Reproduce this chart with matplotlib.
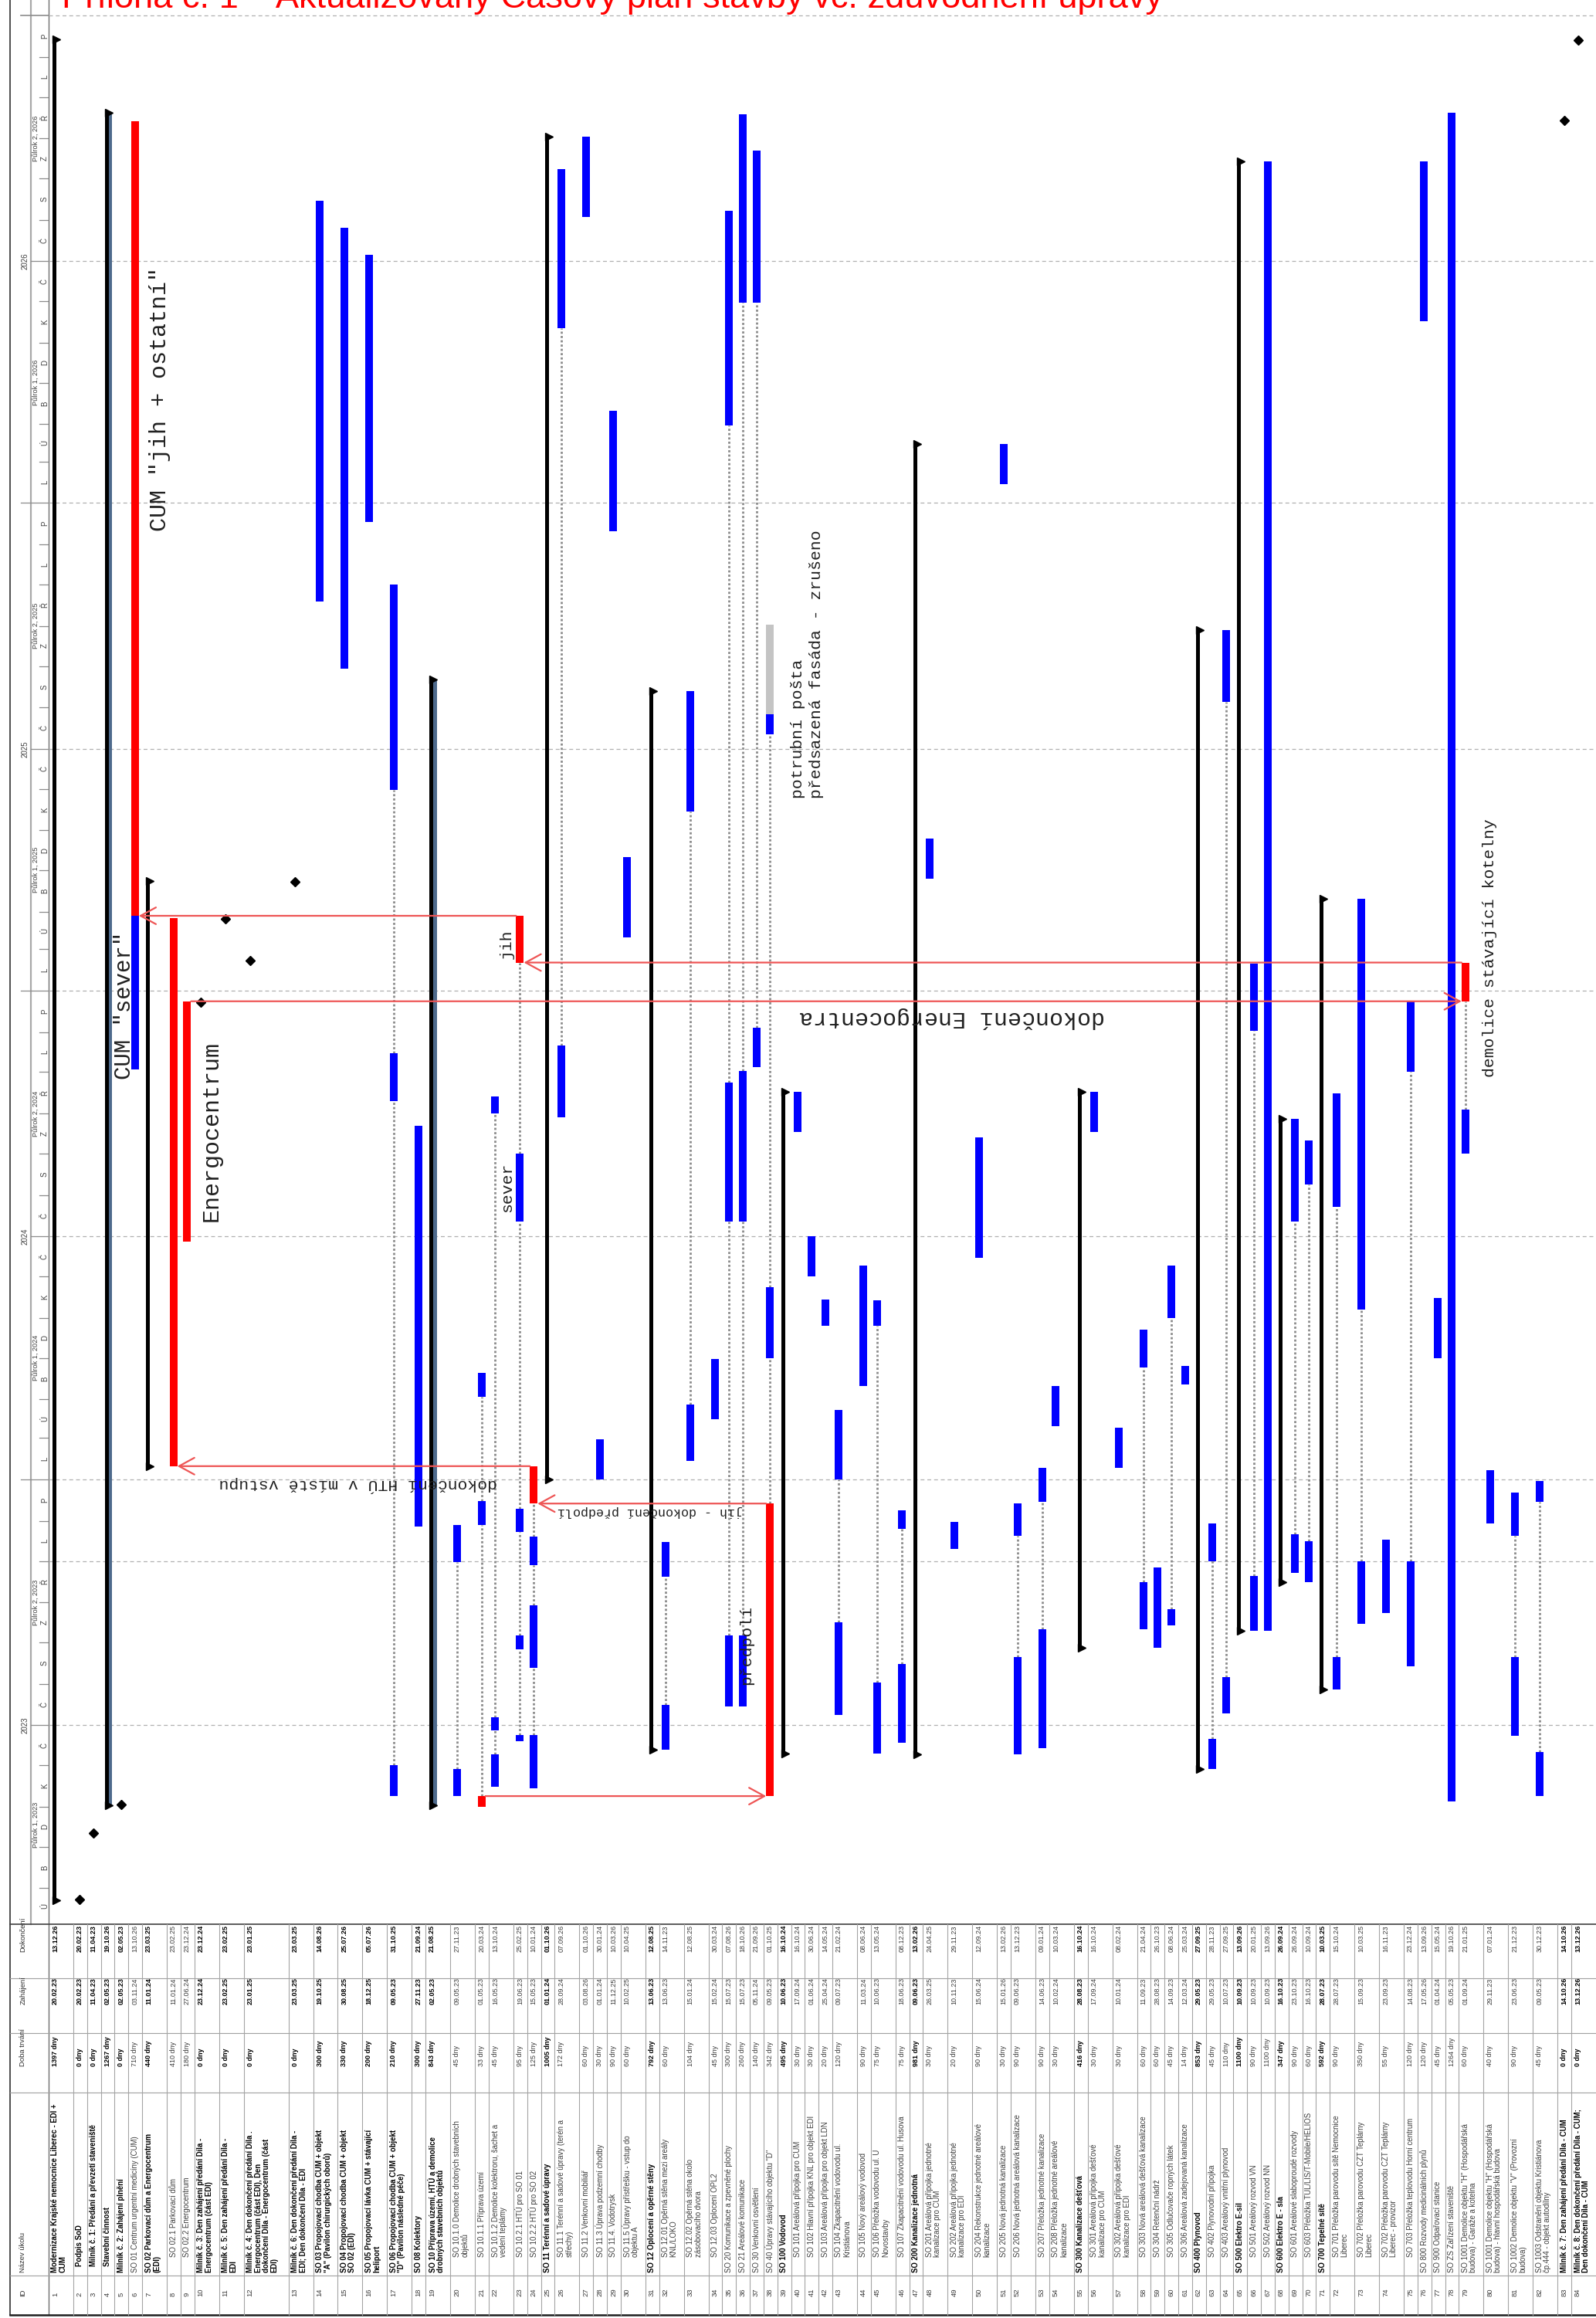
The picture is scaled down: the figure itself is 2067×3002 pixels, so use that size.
import datetime as dt
import matplotlib
matplotlib.use("Agg")
import matplotlib.pyplot as plt
import matplotlib.dates as mdates
from matplotlib.patches import Rectangle

plt.rcParams['font.family'] = ['Liberation Sans', 'DejaVu Sans']
MONO = ['Liberation Mono', 'DejaVu Sans Mono']

W, H = 2067, 3002
DAY_PX = 1.73

# ---------------- table data ----------------
ids = list(range(1, 85))
names = [
    "Modernizace Krajské nemocnice Liberec - EDI +\nCUM", "Podpis SoD",
    "Milník č. 1: Předání a převzetí staveniště", "Stavební činnost",
    "Milník č. 2: Zahájení plnění", "SO 01 Centrum urgentní medicíny (CUM)",
    "SO 02 Parkovací dům a Energocentrum\n(EDI)", "SO 02.1 Parkovací dům", "SO 02.2 Energocentrum",
    "Milník č. 3: Den zahájení předání Díla -\nEnergocentrum (část EDI)",
    "Milník č. 5: Den zahájení předání Díla -\nEDI",
    "Milník č. 4: Den dokončení předání Díla .\nEnergocentrum (část EDI), Den\ndokončení Díla - Energocentrum (část\nEDI)",
    "Milník č. 6: Den dokončení předání Díla -\nEDI; Den dokončení Díla - EDI",
    "SO 03 Propojovací chodba CUM + objekt\n\"A\" (Pavilon chirurgických oborů)",
    "SO 04 Propojovací chodba CUM + objekt\nSO 02 (EDI)",
    "SO 05 Propojovací lávka CUM + stávající\nheliport",
    "SO 06 Propojovací chodba CUM + objekt\n\"D\" (Pavilon následné péče)",
    "SO 08 Kolektory",
    "SO 10 Příprava území, HTÚ a demolice\ndrobných stavebních objektů",
    "SO 10.1.0 Demolice drobných stavebních\nobjektů", "SO 10.1.1 Příprava území",
    "SO 10.1.2 Demolice kolektroru, šachet a\nvedení teplámy",
    "SO 10.2.1 HTÚ pro SO 01", "SO 10.2.2 HTÚ pro SO 02", "SO 11 Terénní a sadové úpravy",
    "SO 11.1 Terénní a sadové úpravy (terén a\nstřechy)", "SO 11.2 Venkovní mobiliář",
    "SO 11.3 Úprava podzemní chodby", "SO 11.4. Vodotrysk",
    "SO 11.5 Úpravy přístřešku - vstup do\nobjektu A", "SO 12 Oplocení a opěrné stěny",
    "SO 12.01 Opěrná stěna mezi areály\nKNL/LOKO", "SO 12.02 Opěrná stěna okolo\nzásobovacího dvora",
    "SO 12.03 Oplocení OPL2", "SO 20 Komunikace a zpevněné plochy", "SO 21 Areálové komunikace",
    "SO 30 Venkovní osvětlení", "SO 40 Úpravy stávajícího objektu \"D\"", "SO 100 Vodovod",
    "SO 101 Areálová přípojka pro CUM", "SO 102 Hlavní přípojka KNL pro objekt EDI",
    "SO 103 Areálová přípojka pro objekt LDN", "SO 104 Zkapacitnění vodovodu ul.\nKristiánova",
    "SO 105 Nový areálový vodovod", "SO 106 Přeložka vodovodu ul. U\nNovostavby",
    "SO 107 Zkapacitnění vodovodu ul. Husova", "SO 200 Kanalizace jednotná",
    "SO 201 Areálová přípojka jednotné\nkanalizace pro CUM",
    "SO 202 Areálová přípojka jednotné\nkanalizace pro EDI",
    "SO 204 Rekonstrukce jednotné areálové\nkanalizace", "SO 205 Nová jednotná kanalizace",
    "SO 206 Nová jednotná areálová kanalizace", "SO 207 Přeložka jednotné kanalizace",
    "SO 208 Přeložka jednotné areálové\nkanalizace", "SO 300 Kanalizace dešťová",
    "SO 301 Areálová přípojka dešťové\nkanalizace pro CUM",
    "SO 302 Areálová přípojka dešťové\nkanalizace pro EDI",
    "SO 303 Nová areálová dešťová kanalizace", "SO 304 Retenční nádrž",
    "SO 305 Odlučovače ropných látek", "SO 306 Areálová zadejovaná kanalizace",
    "SO 400 Plynovod", "SO 402 Plynovodní přípojka", "SO 403 Areálový vnitřní plynovod",
    "SO 500 Elektro E-sil", "SO 501 Areálový rozvod VN", "SO 502 Areálový rozvod NN",
    "SO 600 Elektro E - sla", "SO 601 Areálové slaboproudé rozvody",
    "SO 603 Přeložka TUL/LIS/T-Mobile/HELIOS", "SO 700 Tepelné sítě",
    "SO 701 Přeložka parovodu sítě Nemocnice\nLiberec", "SO 702 Přeložka parovodu CZT Teplárny\nLiberec",
    "SO 702 Přeložka parovodu CZT Teplárny\nLiberec - provizor",
    "SO 703 Přeložka teplovodu Horní centrum", "SO 800 Rozvody medicinálních plynů",
    "SO 900 Odpařovací stanice", "SO ZS Zařízení staveniště",
    "SO 1001 Demolice objektu \"H\" (Hospodářská\nbudova) - Garáže a kotelna",
    "SO 1001 Demolice objektu \"H\" (Hospodářská\nbudova) - hlavní hospodářská budova",
    "SO 1002 Demolice objektu \"V\" (Provozní\nbudova)",
    "SO 1003 Odstranění objektu Kristiánova\nčp.444 - objekt autodílny",
    "Milník č. 7: Den zahájení předání Díla - CUM",
    "Milník č. 8: Den dokončení předání Díla - CUM;\nDen dokončení Díla - CUM",
]
row_lines = [2, 1, 1, 1, 1, 1, 2, 1, 1, 2,
             2, 4, 2, 2, 2, 2, 2, 1, 2, 2,
             1, 2, 1, 1, 1, 2, 1, 1, 1, 2,
             1, 2, 2, 1, 1, 1, 1, 1, 1, 1,
             1, 1, 2, 1, 2, 1, 1, 2, 2, 2,
             1, 2, 1, 2, 1, 2, 2, 1, 1, 1,
             1, 1, 1, 1, 1, 1, 1, 1, 1, 1,
             1, 2, 2, 2, 1, 1, 1, 1, 2, 2,
             2, 2, 1, 2]
durations = ['1397 dny', '0 dny', '0 dny', '1267 dny', '0 dny', '710 dny', '440 dny', '410 dny', '180 dny', '0 dny',
             '0 dny', '0 dny', '0 dny', '300 dny', '330 dny', '200 dny', '210 dny', '300 dny', '843 dny', '45 dny',
             '33 dny', '45 dny', '95 dny', '125 dny', '1005 dny', '172 dny', '60 dny', '30 dny', '90 dny', '60 dny',
             '792 dny', '60 dny', '104 dny', '45 dny', '300 dny', '260 dny', '140 dny', '342 dny', '495 dny', '30 dny',
             '30 dny', '20 dny', '120 dny', '90 dny', '75 dny', '75 dny', '981 dny', '30 dny', '20 dny', '90 dny',
             '30 dny', '90 dny', '90 dny', '30 dny', '416 dny', '30 dny', '30 dny', '60 dny', '60 dny', '45 dny',
             '14 dny', '853 dny', '45 dny', '110 dny', '1100 dny', '90 dny', '1100 dny', '347 dny', '90 dny', '60 dny',
             '592 dny', '90 dny', '350 dny', '55 dny', '120 dny', '120 dny', '45 dny', '1264 dny', '60 dny', '40 dny',
             '90 dny', '45 dny', '0 dny', '0 dny']
starts = ['20.02.23', '20.02.23', '11.04.23', '02.05.23', '02.05.23', '03.11.24', '11.01.24', '11.01.24', '27.06.24', '23.12.24',
          '23.02.25', '23.01.25', '23.03.25', '19.10.25', '30.08.25', '18.12.25', '09.05.23', '27.11.23', '02.05.23', '09.05.23',
          '01.05.23', '16.05.23', '19.06.23', '15.05.23', '01.01.24', '28.09.24', '03.08.26', '01.01.24', '11.12.25', '10.02.25',
          '13.06.23', '13.06.23', '15.01.24', '15.02.24', '15.07.23', '15.07.23', '05.11.24', '09.05.23', '10.06.23', '17.09.24',
          '01.06.24', '25.04.24', '09.07.23', '11.03.24', '10.06.23', '18.06.23', '09.06.23', '26.03.25', '10.11.23', '15.06.24',
          '15.01.26', '09.06.23', '14.06.23', '10.02.24', '28.08.23', '17.09.24', '10.01.24', '11.09.23', '28.08.23', '14.09.23',
          '12.03.24', '29.05.23', '29.05.23', '10.07.23', '10.09.23', '10.09.23', '10.09.23', '16.10.23', '23.10.23', '16.10.23',
          '28.07.23', '28.07.23', '15.09.23', '23.09.23', '14.08.23', '17.05.26', '01.04.24', '05.05.23', '01.09.24', '29.11.23',
          '23.06.23', '09.05.23', '14.10.26', '13.12.26']
finishes = ['13.12.26', '20.02.23', '11.04.23', '19.10.26', '02.05.23', '13.10.26', '23.03.25', '23.02.25', '23.12.24', '23.12.24',
            '23.02.25', '23.01.25', '23.03.25', '14.08.26', '25.07.26', '05.07.26', '31.10.25', '21.09.24', '21.08.25', '27.11.23',
            '20.03.24', '13.10.24', '25.02.25', '10.01.24', '01.10.26', '07.09.26', '01.10.26', '30.01.24', '10.03.26', '10.04.25',
            '12.08.25', '14.11.23', '12.08.25', '30.03.24', '07.08.26', '18.10.26', '21.09.26', '01.10.25', '16.10.24', '16.10.24',
            '30.06.24', '14.05.24', '21.02.24', '08.06.24', '13.05.24', '08.12.23', '13.02.26', '24.04.25', '29.11.23', '12.09.24',
            '13.02.26', '13.12.23', '09.01.24', '10.03.24', '16.10.24', '16.10.24', '08.02.24', '21.04.24', '26.10.23', '08.06.24',
            '25.03.24', '27.09.25', '28.11.23', '27.09.25', '13.09.26', '20.01.25', '13.09.26', '26.09.24', '26.09.24', '10.09.24',
            '10.03.25', '15.10.24', '10.03.25', '16.11.23', '23.12.24', '13.09.26', '15.05.24', '19.10.26', '21.01.25', '07.01.24',
            '21.12.23', '30.12.23', '14.10.26', '13.12.26']

summary_rows = [1, 4, 7, 19, 25, 31, 39, 47, 55, 62, 65, 68, 71]
milestone_rows = [2, 3, 5, 10, 11, 12, 13, 83, 84]
bold_rows = summary_rows + milestone_rows + [14, 15, 16, 17, 18]
indent1_rows = [2, 3, 4]
sub_rows = ([8, 9] + list(range(20, 25)) + list(range(26, 31)) + [32, 33, 34]
            + list(range(40, 47)) + list(range(48, 55)) + list(range(56, 62))
            + [63, 64, 66, 67, 69, 70, 72, 73, 74, 75])

# split bars: (start, finish, colour)  b=blue r=red g=grey
segments = {
    6: [('03.11.24', '25.02.25', 'b'), ('26.02.25', '13.10.26', 'r')],
    8: [('11.01.24', '23.02.25', 'r')],
    9: [('27.06.24', '23.12.24', 'r')],
    17: [('09.05.23', '31.05.23', 'b'), ('10.10.24', '14.11.24', 'b'), ('31.05.25', '31.10.25', 'b')],
    20: [('09.05.23', '28.05.23', 'b'), ('31.10.23', '27.11.23', 'b')],
    21: [('01.05.23', '08.05.23', 'r'), ('28.11.23', '15.12.23', 'b'), ('03.03.24', '20.03.24', 'b')],
    22: [('16.05.23', '08.06.23', 'b'), ('27.06.23', '06.07.23', 'b'), ('01.10.24', '13.10.24', 'b')],
    23: [('19.06.23', '23.06.23', 'b'), ('27.08.23', '05.09.23', 'b'), ('23.11.23', '09.12.23', 'b'),
         ('12.07.24', '31.08.24', 'b'), ('22.01.25', '25.02.25', 'r')],
    24: [('15.05.23', '23.06.23', 'b'), ('13.08.23', '28.09.23', 'b'), ('29.10.23', '18.11.23', 'b'),
         ('14.12.23', '10.01.24', 'r')],
    26: [('28.09.24', '20.11.24', 'b'), ('12.05.26', '07.09.26', 'b')],
    32: [('13.06.23', '15.07.23', 'b'), ('20.10.23', '14.11.23', 'b')],
    33: [('15.01.24', '25.02.24', 'b'), ('15.05.25', '12.08.25', 'b')],
    35: [('15.07.23', '05.09.23', 'b'), ('12.07.24', '23.10.24', 'b'), ('28.02.26', '07.08.26', 'b')],
    36: [('15.07.23', '05.09.23', 'b'), ('12.07.24', '01.11.24', 'b'), ('31.05.26', '18.10.26', 'b')],
    37: [('05.11.24', '03.12.24', 'b'), ('31.05.26', '21.09.26', 'b')],
    38: [('09.05.23', '13.12.23', 'r'), ('01.04.24', '23.05.24', 'b'), ('12.07.25', '26.07.25', 'b'),
         ('27.07.25', '01.10.25', 'g')],
    43: [('09.07.23', '15.09.23', 'b'), ('01.01.24', '21.02.24', 'b')],
    45: [('10.06.23', '01.08.23', 'b'), ('25.04.24', '13.05.24', 'b')],
    46: [('18.06.23', '15.08.23', 'b'), ('25.11.23', '08.12.23', 'b')],
    52: [('09.06.23', '20.08.23', 'b'), ('20.11.23', '13.12.23', 'b')],
    53: [('14.06.23', '10.09.23', 'b'), ('15.12.23', '09.01.24', 'b')],
    58: [('11.09.23', '15.10.23', 'b'), ('25.03.24', '21.04.24', 'b')],
    60: [('14.09.23', '25.09.23', 'b'), ('01.05.24', '08.06.24', 'b')],
    63: [('29.05.23', '20.06.23', 'b'), ('01.11.23', '28.11.23', 'b')],
    64: [('10.07.23', '05.08.23', 'b'), ('05.08.25', '27.09.25', 'b')],
    66: [('10.09.23', '20.10.23', 'b'), ('02.12.24', '20.01.25', 'b')],
    69: [('23.10.23', '20.11.23', 'b'), ('12.07.24', '26.09.24', 'b')],
    70: [('16.10.23', '15.11.23', 'b'), ('09.08.24', '10.09.24', 'b')],
    72: [('28.07.23', '20.08.23', 'b'), ('23.07.24', '15.10.24', 'b')],
    73: [('15.09.23', '31.10.23', 'b'), ('07.05.24', '10.03.25', 'b')],
    75: [('14.08.23', '31.10.23', 'b'), ('01.11.24', '23.12.24', 'b')],
    79: [('01.09.24', '03.10.24', 'b'), ('24.12.24', '21.01.25', 'r')],
    81: [('23.06.23', '20.08.23', 'b'), ('20.11.23', '21.12.23', 'b')],
    82: [('09.05.23', '10.06.23', 'b'), ('15.12.23', '30.12.23', 'b')],
}

# red arrows: (date, at start/end of day, from row, to row)
arrows = [('25.02.25', 'end', 23, 6), ('21.01.25', 'end', 79, 23), ('23.12.24', 'end', 9, 79),
          ('11.01.24', 'start', 24, 8), ('13.12.23', 'end', 38, 24), ('09.05.23', 'start', 21, 38)]

month_letters = ['L', 'Ú', 'B', 'D', 'K', 'Č', 'Č', 'S', 'Z', 'Ř', 'L', 'P']
bar_colors = {'b': '#0000ff', 'r': '#ff0000', 'g': '#c4c4c4'}


def dnum(s):
    return mdates.date2num(dt.datetime.strptime(s, "%d.%m.%y"))


top_date = mdates.date2num(dt.datetime(2027, 1, 1))


def ydate(py):
    return top_date - (py - 20) / DAY_PX


# row layout (rows are columns on the rotated page)
unit_w = {1: 17.85, 2: 32.0, 4: 58.0}
widths = [unit_w[n] for n in row_lines]
k = (W - 63) / sum(widths)
row_left = []
acc = 63.0
for w in widths:
    row_left.append(acc)
    acc += w * k
bar_x = [l + 8.5 for l in row_left]

fig = plt.figure(figsize=(W / 100, H / 100), dpi=100)
page = fig.add_axes([0, 0, 1, 1], zorder=0)
page.set_xlim(0, W)
page.set_ylim(H, 0)
page.axis('off')

ax = fig.add_axes([63 / W, (H - 2492) / H, (W - 63) / W, (2492 - 20) / H], zorder=2)
ax.set_xlim(63, W)
ax.set_ylim(ydate(2492), ydate(20))
ax.axis('off')
ts = fig.add_axes([13 / W, (H - 2492) / H, 50 / W, (2492 - 20) / H], sharey=ax, zorder=2)
ts.set_xlim(13, 63)
ts.axis('off')

bottom, top = ydate(2492), ydate(20)

# ---------------- title ----------------
title = fig.text(80 / W, 1 - 10 / H,
                 "Příloha č. 1 – Aktualizovaný Časový plán stavby vč. zdůvodnění úpravy",
                 color='#ff0000', fontsize=29, ha='left', va='baseline')
fig.canvas.draw()
title.set_fontsize(29 * 1426 / title.get_window_extent().width)

# ---------------- frame lines ----------------
page.plot([13, 13], [0, 2998], color='#303030', lw=1.2)
page.plot([40, 40], [0, 2492], color='#a8a8a8', lw=1.6)
page.plot([63, 63], [0, 2998], color='#707070', lw=1.0)
page.plot([13, W], [2492, 2492], color='#404040', lw=1.2)
page.plot([13, W], [2998, 2998], color='#202020', lw=1.8)
for yy in (2562, 2633, 2710, 2947):
    page.plot([13, W], [yy, yy], color='#a0a0a0', lw=0.8)
for xl in row_left[1:]:
    page.plot([xl, xl], [2492, 2998], color='#a4a4a4', lw=0.8)

# ---------------- timescale ----------------
for yr in range(2023, 2027):
    for m in range(1, 13):
        a = mdates.date2num(dt.datetime(yr, m, 1))
        b = mdates.date2num(dt.datetime(yr + (m == 12), m % 12 + 1, 1))
        lo, hi = max(a, bottom), min(b, top)
        if hi - lo > 8:
            ts.text(58, (lo + hi) / 2, month_letters[m - 1], rotation=90, ha='center', va='center',
                    fontsize=7, color='#404040')
        if a > bottom:
            x0 = 27 if m == 1 else (40 if m == 7 else 51)
            ts.plot([x0, 63], [a, a], color='#8c8c8c', lw=0.9)
    for h, (m0, m1) in enumerate([(1, 7), (7, 13)]):
        a = mdates.date2num(dt.datetime(yr, m0, 1))
        b = mdates.date2num(dt.datetime(yr + (m1 == 13), m1 if m1 < 13 else 1, 1))
        lo, hi = max(a, bottom), min(b, top)
        ts.text(46, (lo + hi) / 2, 'Půlrok %d, %d' % (h + 1, yr), rotation=90, ha='center', va='center',
                fontsize=6.6, color='#404040')
    ts.text(33, mdates.date2num(dt.datetime(yr, 7, 1)), str(yr), rotation=90, ha='center', va='center',
            fontsize=7, color='#404040')
ts.plot([27, 63], [top, top], color='#8c8c8c', lw=1.2, clip_on=False)

# ---------------- grid ----------------
grid_dates = [dt.datetime(y, m, 1) for y in range(2023, 2027) for m in (1, 7)] + [dt.datetime(2027, 1, 1),
                                                                                 dt.datetime(2023, 11, 1)]
for g in grid_dates:
    gv = mdates.date2num(g)
    if bottom < gv <= top:
        ax.axhline(gv, color='#b0b0b0', lw=0.9, ls=(0, (4, 3)), zorder=0, clip_on=False)

# ---------------- bars ----------------
for i, r in enumerate(ids):
    xl = row_left[i]
    xc = bar_x[i]
    if r in summary_rows:
        s, e = dnum(starts[i]), dnum(finishes[i]) + 1
        ax.bar(xl + 7.5, e - s, bottom=s, width=5, color='black', zorder=3)
        if r in (4, 19):
            ax.bar(xl + 12.2, e - s, bottom=s, width=4.4, color='#4e6a8c', zorder=3)
        ax.plot([xl + 10, xl + 10], [s, e], ls='none', marker='>', ms=7.5, color='black', zorder=3,
                clip_on=False)
    elif r in milestone_rows:
        ax.plot(xc, dnum(starts[i]) + 0.5, marker='D', ms=6.5, color='black', zorder=4, clip_on=False)
    else:
        prev = None
        for s_str, e_str, c in segments.get(r, [(starts[i], finishes[i], 'b')]):
            s, e = dnum(s_str), dnum(e_str) + 1
            if prev is not None and s - prev > 1:
                ax.plot([xc, xc], [prev, s], color='#8c8c8c', lw=2.0, ls=(0, (1, 1)), zorder=2)
            ax.bar(xc, e - s, bottom=s, width=10, color=bar_colors[c], zorder=3)
            prev = e

# ---------------- red arrows ----------------
for d_str, where, tail_row, tip_row in arrows:
    y = dnum(d_str) + (1 if where == 'end' else 0)
    tx, sx = bar_x[tip_row - 1], bar_x[tail_row - 1]
    if tx < sx:
        tip_x, tail_x = tx + 5, sx - 5
    else:
        tip_x, tail_x = tx - 5, sx + 5
    ax.annotate('', xy=(tip_x, y), xytext=(tail_x, y), zorder=5,
                arrowprops=dict(arrowstyle='->,head_length=0.55,head_width=0.3', color='#ee5555',
                                lw=1.6, shrinkA=0, shrinkB=0, mutation_scale=26))


# ---------------- annotations ----------------
def mono_fs(px_per_char):
    return px_per_char / 0.6 * 0.72


notes = [
    ('CUM "jih + ostatní"', 207, 517, 90, 18.0),
    ('CUM "sever"', 161, 1302, 90, 17.4),
    ('Energocentrum', 274, 1465, 90, 18.0),
    ('dokončení Energocentra', 1233, 1318, 180, 18.0),
    ('dokončení HTÚ v místě vstupu', 464, 1923, 180, 12.8),
    ('jih - dokončení předpolí', 842, 1957, 180, 10.0),
    ('předpolí', 967, 2130, 90, 12.8),
    ('jih', 656, 1223, 90, 12.8),
    ('sever', 657, 1538, 90, 12.8),
    ('demolice stávající kotelny', 1930, 1228, 90, 12.8),
]
for txt, px, py, rot, ppc in notes:
    ax.text(px, ydate(py), txt, rotation=rot, ha='center', va='center', family=MONO,
            fontsize=mono_fs(ppc), color='#202020', zorder=6)
for txt, px in (('potrubní pošta', 1034), ('předsazená fasáda - zrušeno', 1058)):
    ax.text(px, ydate(1034), txt, rotation=90, rotation_mode='anchor', ha='left', va='center',
            family=MONO, fontsize=mono_fs(12.8), color='#202020', zorder=6)

# ---------------- table ----------------
name_clip = Rectangle((13, 2712), W - 13, 234, transform=page.transData, visible=False)
page.add_patch(name_clip)
hdr = [('ID', 2974), ('Název úkolu', 2943), ('Doba trvání', 2676), ('Zahájení', 2596), ('Dokončení', 2528)]
for txt, yy in hdr:
    page.text(30, yy, txt, rotation=90, rotation_mode='anchor', ha='left', va='center',
              fontsize=6.8, color='#303030')

for i, r in enumerate(ids):
    x0 = row_left[i]
    xc = x0 + 8.5
    bold = r in bold_rows
    fw = 'bold' if bold else 'normal'
    col = '#000000' if bold else '#3c3c3c'
    page.text(xc, 2974, str(r), rotation=90, rotation_mode='anchor', ha='left', va='center',
              fontsize=6.8, color='#3c3c3c')
    ny = 2935 if r in indent1_rows else (2923 if r in sub_rows else 2943)
    for j, line in enumerate(names[i].split('\n')):
        t = page.text(xc + 10.5 * j, ny, line, rotation=90, rotation_mode='anchor', ha='left',
                      va='center', fontsize=6.9, fontweight=fw, color=col)
        t.set_clip_path(name_clip)
    for txt, yy in ((durations[i], 2676), (starts[i], 2596), (finishes[i], 2528)):
        page.text(xc, yy, txt, rotation=90, rotation_mode='anchor', ha='left', va='center',
                  fontsize=6.5, fontweight=fw, color=col)

fig.savefig('out.png', dpi=100, facecolor='white')
